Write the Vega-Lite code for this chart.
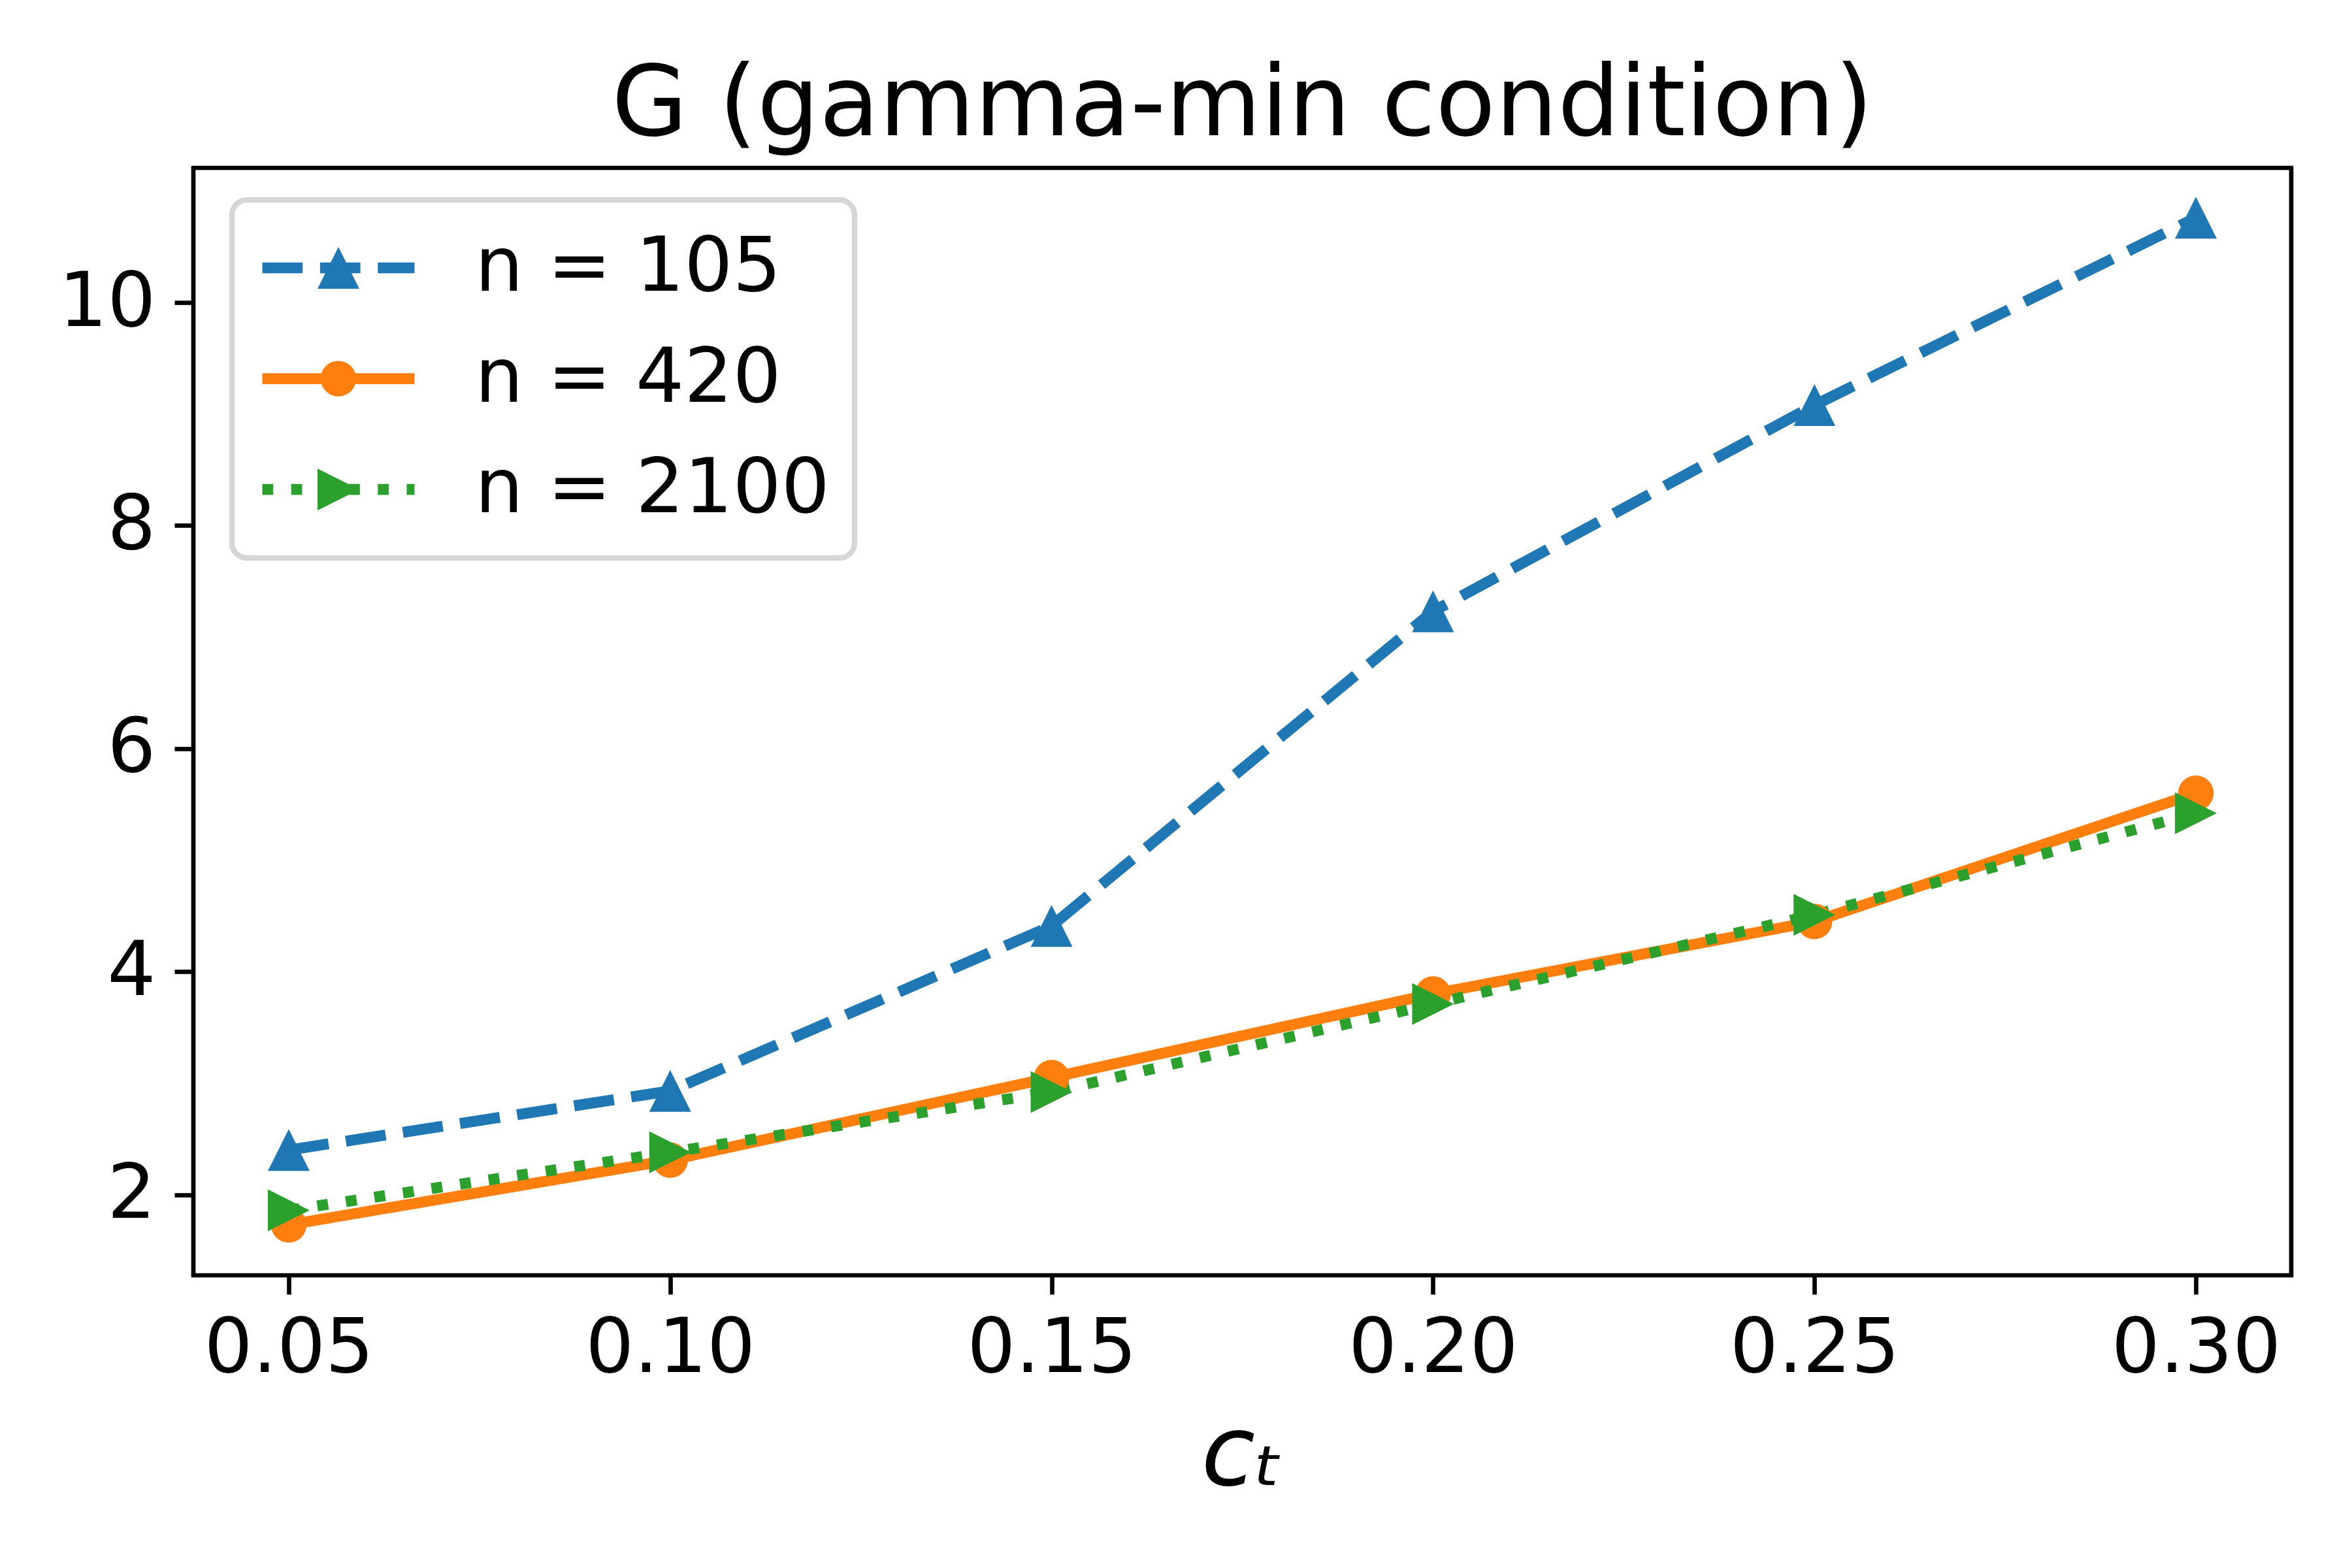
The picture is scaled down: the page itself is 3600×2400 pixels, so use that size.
{
  "$schema": "https://vega.github.io/schema/vega-lite/v6.json",
  "width": 3211,
  "height": 1695,
  "autosize": {"type": "none"},
  "padding": {"left": 296, "top": 257, "right": 93, "bottom": 448},
  "background": "white",
  "title": {
    "text": "G (gamma-min condition)",
    "font": "DejaVu Sans",
    "fontSize": 150,
    "fontWeight": "normal",
    "color": "black",
    "anchor": "middle",
    "frame": "group",
    "baseline": "alphabetic",
    "offset": -100
  },
  "data": {
    "values": [
      {"ct": 0.05, "n": 105, "G": 2.40},
      {"ct": 0.10, "n": 105, "G": 2.93},
      {"ct": 0.15, "n": 105, "G": 4.41},
      {"ct": 0.20, "n": 105, "G": 7.23},
      {"ct": 0.25, "n": 105, "G": 9.08},
      {"ct": 0.30, "n": 105, "G": 10.76},
      {"ct": 0.05, "n": 420, "G": 1.73},
      {"ct": 0.10, "n": 420, "G": 2.31},
      {"ct": 0.15, "n": 420, "G": 3.05},
      {"ct": 0.20, "n": 420, "G": 3.80},
      {"ct": 0.25, "n": 420, "G": 4.45},
      {"ct": 0.30, "n": 420, "G": 5.60},
      {"ct": 0.05, "n": 2100, "G": 1.86},
      {"ct": 0.10, "n": 2100, "G": 2.38},
      {"ct": 0.15, "n": 2100, "G": 2.92},
      {"ct": 0.20, "n": 2100, "G": 3.71},
      {"ct": 0.25, "n": 2100, "G": 4.51},
      {"ct": 0.30, "n": 2100, "G": 5.42}
    ]
  },
  "encoding": {
    "x": {
      "field": "ct",
      "type": "quantitative",
      "title": "cₜ",
      "scale": {"domain": [0.0375, 0.3125], "nice": false, "zero": false},
      "axis": {
        "values": [0.05, 0.1, 0.15, 0.2, 0.25, 0.3],
        "format": ".2f",
        "labelBaseline": "alphabetic",
        "labelPadding": 118,
        "labelFlush": false,
        "labelOverlap": false,
        "labelLimit": 2000,
        "titleFont": "DejaVu Sans",
        "titleFontSize": 150,
        "titleFontStyle": "italic",
        "titleFontWeight": "normal",
        "titleColor": "black",
        "titleBaseline": "alphabetic",
        "titleY": 320
      }
    },
    "y": {
      "field": "G",
      "type": "quantitative",
      "title": null,
      "scale": {"domain": [1.277, 11.207], "nice": false, "zero": false},
      "axis": {
        "values": [2, 4, 6, 8, 10],
        "format": "d",
        "labelPadding": 29,
        "labelOverlap": false,
        "labelLimit": 2000
      }
    }
  },
  "layer": [
    {
      "mark": {"type": "line", "strokeWidth": 16.7, "strokeCap": "butt", "strokeJoin": "round"},
      "encoding": {
        "stroke": {
          "field": "n",
          "type": "ordinal",
          "sort": "ascending",
          "scale": {"range": ["#1f77b4", "#ff7f0e", "#2ca02c"]},
          "legend": {
            "orient": "none",
            "legendX": 59,
            "legendY": 49,
            "title": null,
            "symbolType": "stroke",
            "symbolSize": 54289,
            "symbolStrokeWidth": 16.7,
            "labelFont": "DejaVu Sans",
            "labelFontSize": 116.7,
            "labelColor": "black",
            "labelLimit": 3000,
            "labelOffset": 84,
            "labelExpr": "'n = ' + datum.label",
            "padding": 38,
            "clipHeight": 132,
            "rowPadding": 37.6,
            "strokeColor": "#d6d6d6",
            "fillColor": "white",
            "cornerRadius": 23,
            "encode": {"legend": {"update": {"strokeWidth": {"value": 8.3}}}}
          }
        },
        "strokeDash": {
          "field": "n",
          "type": "ordinal",
          "sort": "ascending",
          "scale": {"range": [[61.7, 26.7], [1, 0], [16.7, 27.5]]},
          "legend": {
            "orient": "none",
            "legendX": 59,
            "legendY": 49,
            "title": null,
            "symbolType": "stroke",
            "symbolSize": 54289,
            "symbolStrokeWidth": 16.7,
            "labelFont": "DejaVu Sans",
            "labelFontSize": 116.7,
            "labelColor": "black",
            "labelLimit": 3000,
            "labelOffset": 84,
            "labelExpr": "'n = ' + datum.label",
            "padding": 38,
            "clipHeight": 132,
            "rowPadding": 37.6,
            "strokeColor": "#d6d6d6",
            "fillColor": "white",
            "cornerRadius": 23,
            "encode": {"legend": {"update": {"strokeWidth": {"value": 8.3}}}}
          }
        }
      }
    },
    {
      "mark": {"type": "point", "filled": true, "opacity": 1, "strokeWidth": 0, "size": 4096},
      "encoding": {
        "fill": {
          "field": "n",
          "type": "ordinal",
          "scale": {"domain": [105, 420, 2100], "range": ["#1f77b4", "#ff7f0e", "#2ca02c"]},
          "legend": {
            "orient": "none",
            "legendX": 190,
            "legendY": 87,
            "title": null,
            "padding": 0,
            "clipHeight": 132,
            "rowPadding": 37.6,
            "symbolSize": 4096,
            "symbolStrokeWidth": 0,
            "symbolOpacity": 1,
            "labelExpr": "''",
            "labelFontSize": 10,
            "strokeColor": null,
            "fillColor": null
          }
        },
        "shape": {
          "field": "n",
          "type": "ordinal",
          "scale": {
            "domain": [105, 420, 2100],
            "range": [
              "M0,-1L-1,1L1,1Z",
              "M0.85,0A0.85,0.85,0,1,1,-0.85,0A0.85,0.85,0,1,1,0.85,0Z",
              "M1,0L-1,-1L-1,1Z"
            ]
          },
          "legend": {
            "orient": "none",
            "legendX": 190,
            "legendY": 87,
            "title": null,
            "padding": 0,
            "clipHeight": 132,
            "rowPadding": 37.6,
            "symbolSize": 4096,
            "symbolStrokeWidth": 0,
            "symbolOpacity": 1,
            "labelExpr": "''",
            "labelFontSize": 10,
            "strokeColor": null,
            "fillColor": null
          }
        }
      }
    }
  ],
  "config": {
    "font": "DejaVu Sans",
    "view": {"stroke": "black", "strokeWidth": 6.67},
    "axis": {
      "domain": false,
      "grid": false,
      "ticks": true,
      "tickColor": "black",
      "tickWidth": 6.67,
      "tickSize": 29,
      "labelFont": "DejaVu Sans",
      "labelFontSize": 116.7,
      "labelColor": "black"
    }
  }
}
